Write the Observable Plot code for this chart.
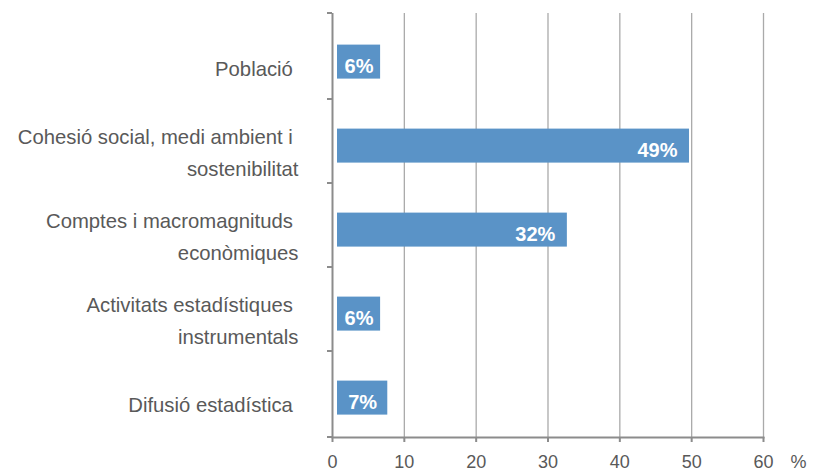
<!DOCTYPE html>
<html>
<head>
<meta charset="utf-8">
<script src="https://cdn.jsdelivr.net/npm/d3@7"></script>
<script src="https://cdn.jsdelivr.net/npm/@observablehq/plot@0.6"></script>
<style>
  html, body { margin: 0; padding: 0; background: #fff; }
</style>
</head>
<body>
<div id="chart"></div>
<script>
const categories = [
  "Població",
  "Cohesió social, medi ambient i sostenibilitat",
  "Comptes i macromagnituds econòmiques",
  "Activitats estadístiques instrumentals",
  "Difusió estadística"
];
const categoryLabels = [
  "Població\u00a0",
  "Cohesió social, medi ambient i\u00a0\nsostenibilitat",
  "Comptes i macromagnituds\u00a0\neconòmiques",
  "Activitats estadístiques\u00a0\ninstrumentals",
  "Difusió estadística\u00a0"
];
const values = [6, 49, 32, 6, 7];
const xTicks = [0, 10, 20, 30, 40, 50, 60];
const unitLabel = "%";

const rows = categories.map((c, i) => ({cat: c, label: categoryLabels[i], value: values[i]}));

const BAR = "#5a93c7";
const AXIS = "#8c8c8c";
const TEXT = "#595959";
const barDy = 4.6;

function yBoundaryTicks(index, scales, vals, dimensions) {
  const y = scales.y;
  const bw = typeof y.bandwidth === "function" ? y.bandwidth() : 0;
  const starts = categories.map(c => y(c));
  const step = starts[1] - starts[0];
  const top = dimensions.marginTop;
  const bottom = dimensions.height - dimensions.marginBottom;
  const x0 = dimensions.marginLeft;
  const ys = [top, ...starts.slice(1).map(s => s - (step - bw) / 2), bottom];
  const g = d3.create("svg:g");
  g.selectAll("line").data(ys).join("line")
    .attr("x1", x0 - 5).attr("x2", x0)
    .attr("y1", d => d).attr("y2", d => d)
    .attr("stroke", AXIS).attr("stroke-width", 2);
  return g.node();
}

const chart = Plot.plot({
  width: 813,
  height: 471,
  marginLeft: 332,
  marginRight: 50,
  marginTop: 13,
  marginBottom: 34,
  style: {fontFamily: "'Liberation Sans', Arial, Helvetica, sans-serif", fontSize: "18px", background: "#fff", color: TEXT},
  x: {domain: [0, 60]},
  y: {domain: categories, paddingInner: 0.6, paddingOuter: 0.3, axis: null},
  marks: [
    Plot.ruleX(xTicks.slice(1), {stroke: "#aaaaaa", strokeWidth: 1.3}),
    Plot.barX(rows, {x: "value", y: "cat", fill: BAR, dx: 5, dy: barDy}),
    Plot.text(rows.filter(d => d.value >= 20), {
      x: "value", y: "cat", text: d => d.value + "%", textAnchor: "end",
      dx: -7, dy: barDy + 4.3, fill: "#fff", fontWeight: "bold", fontSize: 20
    }),
    Plot.text(rows.filter(d => d.value < 20), {
      x: d => d.value / 2, y: "cat", text: d => d.value + "%", textAnchor: "middle",
      dx: 5, dy: barDy + 4.3, fill: "#fff", fontWeight: "bold", fontSize: 20
    }),
    Plot.text(rows, {
      y: "cat", text: "label", frameAnchor: "left", textAnchor: "end",
      dx: -34, dy: barDy + 3.5, fontSize: 20.3, lineHeight: 1.6, fill: TEXT,
      letterSpacing: "0.2px"
    }),
    Plot.ruleX([0], {stroke: AXIS, strokeWidth: 2}),
    Plot.frame({anchor: "bottom", stroke: AXIS, strokeWidth: 2}),
    yBoundaryTicks,
    Plot.axisX({
      ticks: xTicks, tickSize: 5, tickPadding: 13, fontSize: 18,
      stroke: AXIS, strokeWidth: 2, fill: TEXT, label: null
    }),
    Plot.text([unitLabel], {
      frameAnchor: "bottom-right", dx: 35, dy: 18, lineAnchor: "top",
      textAnchor: "middle", fontSize: 18, fill: TEXT
    })
  ]
});
document.getElementById("chart").appendChild(chart);
</script>
</body>
</html>
